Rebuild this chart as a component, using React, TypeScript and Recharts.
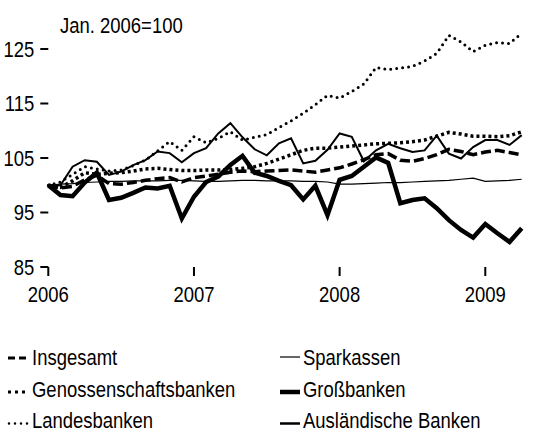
import React from 'react';
import { LineChart, Line, XAxis, YAxis } from 'recharts';

const FONT = '"Liberation Sans", Arial, sans-serif';
const SX = 0.84;

const monthIndex = [0, 1, 2, 3, 4, 5, 6, 7, 8, 9, 10, 11, 12, 13, 14, 15, 16, 17, 18, 19, 20, 21, 22, 23, 24, 25, 26, 27, 28, 29, 30, 31, 32, 33, 34, 35, 36, 37, 38, 39];
const yearTicks = [0, 12, 24, 36];
const yearLabels = ['2006', '2007', '2008', '2009'];
const valueTicks = [85, 95, 105, 115, 125];

const insgesamt = [100.0, 99.5, 99.8, 101.0, 101.8, 100.3, 100.2, 100.5, 100.9, 101.2, 101.4, 100.6, 101.4, 101.7, 102.0, 102.4, 102.6, 102.5, 102.6, 102.7, 102.8, 102.6, 102.4, 102.8, 103.2, 103.9, 104.7, 105.6, 105.8, 104.6, 104.4, 104.9, 105.6, 106.6, 106.2, 105.6, 106.1, 106.4, 106.0, 105.6];
const sparkassen = [100.0, 100.2, 100.3, 100.5, 100.6, 100.7, 100.7, 100.8, 100.8, 100.8, 100.9, 100.9, 100.8, 100.7, 100.7, 100.8, 100.9, 100.9, 100.8, 100.8, 100.8, 100.7, 100.7, 100.6, 100.2, 100.2, 100.3, 100.4, 100.5, 100.5, 100.6, 100.7, 100.8, 100.9, 101.1, 101.3, 100.7, 100.8, 100.9, 101.1];
const genossenschaftsbanken = [100.0, 99.6, 100.8, 102.3, 102.0, 102.2, 102.3, 102.6, 103.0, 103.1, 102.9, 102.7, 102.7, 102.8, 102.8, 102.9, 103.1, 103.4, 104.0, 104.8, 105.6, 106.4, 106.8, 106.8, 107.0, 107.2, 107.4, 107.6, 107.7, 107.8, 108.0, 108.3, 109.0, 109.7, 109.4, 109.0, 109.0, 108.9, 109.1, 109.8];
const grossbanken = [100.0, 98.2, 98.0, 100.5, 102.3, 97.3, 97.7, 98.6, 99.6, 99.4, 99.9, 93.9, 97.9, 100.6, 101.6, 103.7, 105.4, 102.3, 101.7, 100.8, 100.0, 97.4, 99.9, 94.5, 101.0, 101.7, 103.4, 105.1, 104.1, 96.7, 97.3, 97.6, 95.8, 93.6, 91.8, 90.4, 92.9, 91.2, 89.6, 92.1];
const landesbanken = [100.0, 100.6, 102.0, 103.4, 103.0, 102.6, 102.8, 103.6, 104.6, 106.3, 108.0, 106.4, 108.9, 107.8, 108.6, 109.8, 108.3, 108.8, 109.3, 110.6, 111.8, 113.2, 114.8, 116.5, 116.0, 117.2, 118.6, 121.6, 121.2, 121.5, 121.8, 122.8, 124.2, 127.5, 126.3, 124.5, 125.7, 126.2, 126.0, 127.9];
const auslaendischeBanken = [100.0, 100.0, 103.4, 104.6, 104.3, 101.9, 102.5, 103.7, 104.6, 106.2, 105.9, 104.2, 105.9, 106.8, 109.5, 111.4, 108.8, 106.6, 105.5, 107.7, 108.6, 104.0, 104.5, 106.5, 109.5, 108.9, 104.4, 106.4, 107.6, 106.8, 106.1, 106.4, 109.1, 105.8, 104.9, 107.0, 108.3, 108.3, 107.4, 109.2];

const data = monthIndex.map((m, k) => ({
  m,
  insgesamt: insgesamt[k],
  sparkassen: sparkassen[k],
  genossenschaftsbanken: genossenschaftsbanken[k],
  grossbanken: grossbanken[k],
  landesbanken: landesbanken[k],
  auslaendischeBanken: auslaendischeBanken[k],
}));

const NText = ({ x, y, anchor = 'start', dy, children }: any) => (
  <text
    transform={`translate(${x} ${y}) scale(${SX} 1)`}
    x={0}
    y={0}
    dy={dy}
    textAnchor={anchor}
    fontSize={22}
    fontFamily={FONT}
    fill="#000"
  >
    {children}
  </text>
);

const XTick = (props: any) => {
  const { x, y, payload } = props;
  const idx = yearTicks.indexOf(payload.value);
  return <NText x={x} y={y} dy="0.71em" anchor="middle">{idx >= 0 ? yearLabels[idx] : ''}</NText>;
};

const YTick = (props: any) => {
  const { x, y, payload } = props;
  return <NText x={x} y={y} dy="0.36em" anchor="end">{payload.value}</NText>;
};

const legendLeft = [
  { label: 'Insgesamt', y: 365, gy: 358, kind: 'dash' },
  { label: 'Genossenschaftsbanken', y: 397, gy: 392, kind: 'square' },
  { label: 'Landesbanken', y: 427.5, gy: 423.5, kind: 'round' },
];
const legendRight = [
  { label: 'Sparkassen', y: 365, gy: 357, w: 1.2 },
  { label: 'Großbanken', y: 397, gy: 392, w: 4.5 },
  { label: 'Ausländische Banken', y: 427.5, gy: 423.5, w: 2.5 },
];

export default function App() {
  return (
    <div style={{ position: 'absolute', left: 0, top: 0, width: 547, height: 432, background: '#fff' }}>
      <LineChart width={547} height={432} data={data} margin={{ top: 21.75, right: 25.3, left: 8.3, bottom: 135 }}>
        <XAxis
          dataKey="m"
          type="number"
          domain={[0, 39]}
          ticks={yearTicks}
          interval={0}
          axisLine={false}
          tickSize={9}
          tickMargin={10}
          height={30}
          tickLine={{ stroke: '#000', strokeWidth: 2 }}
          tick={<XTick />}
        />
        <YAxis
          type="number"
          domain={[85, 130]}
          ticks={valueTicks}
          interval={0}
          axisLine={false}
          tickSize={8}
          tickMargin={6}
          width={40}
          tickLine={{ stroke: '#000', strokeWidth: 2 }}
          tick={<YTick />}
        />
        <Line dataKey="sparkassen" type="linear" stroke="#000" strokeWidth={1.2} dot={false} isAnimationActive={false} />
        <Line dataKey="genossenschaftsbanken" type="linear" stroke="#000" strokeWidth={3.5} strokeDasharray="3 3" dot={false} isAnimationActive={false} />
        <Line dataKey="landesbanken" type="linear" stroke="#000" strokeWidth={3} strokeDasharray="0 6" strokeLinecap="round" dot={false} isAnimationActive={false} />
        <Line dataKey="insgesamt" type="linear" stroke="#000" strokeWidth={3.5} strokeDasharray="10 4" dot={false} isAnimationActive={false} />
        <Line dataKey="auslaendischeBanken" type="linear" stroke="#000" strokeWidth={2} dot={false} isAnimationActive={false} />
        <Line dataKey="grossbanken" type="linear" stroke="#000" strokeWidth={4.5} dot={false} isAnimationActive={false} />
      </LineChart>
      <svg width={547} height={432} style={{ position: 'absolute', left: 0, top: 0, pointerEvents: 'none' }}>
        <NText x={60} y={33}>Jan. 2006=100</NText>
        {legendLeft.map((it) => (
          <g key={it.label}>
            {it.kind === 'dash' && <line x1={8} x2={26} y1={it.gy} y2={it.gy} stroke="#000" strokeWidth={3} strokeDasharray="7 4" />}
            {it.kind === 'square' && <line x1={8} x2={26} y1={it.gy} y2={it.gy} stroke="#000" strokeWidth={3} strokeDasharray="3 4" />}
            {it.kind === 'round' && <line x1={9} x2={28} y1={it.gy} y2={it.gy} stroke="#000" strokeWidth={2.5} strokeDasharray="0 6" strokeLinecap="round" />}
            <NText x={32} y={it.y}>{it.label}</NText>
          </g>
        ))}
        {legendRight.map((it) => (
          <g key={it.label}>
            <line x1={280} x2={300} y1={it.gy} y2={it.gy} stroke="#000" strokeWidth={it.w} />
            <NText x={303} y={it.y}>{it.label}</NText>
          </g>
        ))}
      </svg>
    </div>
  );
}
